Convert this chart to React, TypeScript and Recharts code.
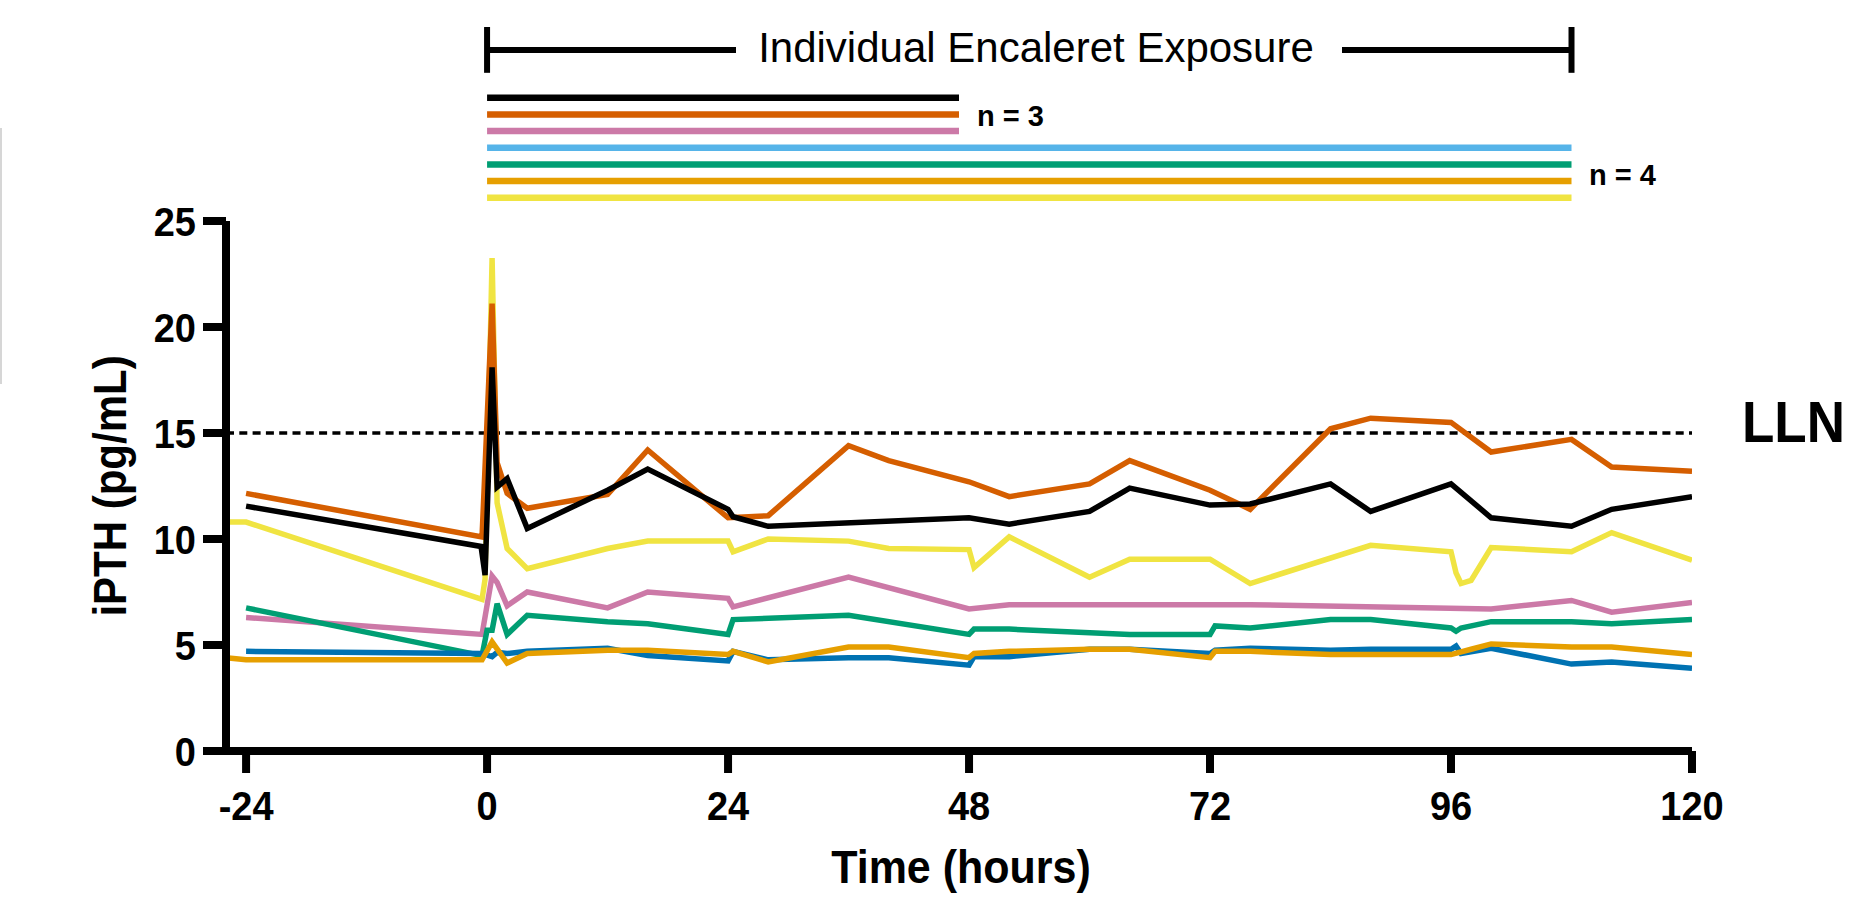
import React from 'react';
import { LineChart, Line, XAxis, YAxis, ReferenceLine } from 'recharts';

type Pt = [number, number]; // [hours, iPTH pg/mL]

const blackPts: Pt[] = [
  [-24, 11.55], [-0.6, 9.65], [-0.2, 8.3], [0.5, 18.1], [1, 12.45], [2, 12.85], [4, 10.5],
  [12, 12.3], [16, 13.3], [24, 11.4], [24.5, 11.05], [28, 10.6], [48, 11.0], [52, 10.7],
  [60, 11.3], [64, 12.4], [72, 11.6], [76, 11.65], [84, 12.6], [88, 11.3], [96, 12.6],
  [100, 11.0], [108, 10.6], [112, 11.4], [120, 12.0],
];
const vermillionPts: Pt[] = [
  [-24, 12.15], [-0.5, 10.1], [0.5, 21.1], [1, 13.6], [2, 12.15], [4, 11.45], [12, 12.1],
  [16, 14.2], [24, 11.0], [28, 11.1], [36, 14.4], [40, 13.7], [48, 12.7], [52, 12.0],
  [60, 12.6], [64, 13.7], [72, 12.3], [76, 11.4], [84, 15.2], [88, 15.7], [96, 15.5],
  [100, 14.1], [108, 14.7], [112, 13.4], [120, 13.2],
];
const yellowPts: Pt[] = [
  [-26, 10.8], [-24, 10.8], [-0.5, 7.15], [-0.2, 8.1], [0.5, 23.25], [1, 11.7], [2, 9.55],
  [4, 8.6], [12, 9.55], [16, 9.9], [24, 9.9], [24.5, 9.4], [28, 10.0], [36, 9.9], [40, 9.55],
  [48, 9.5], [48.5, 8.65], [52, 10.1], [60, 8.2], [64, 9.05], [72, 9.05], [76, 7.9],
  [88, 9.7], [96, 9.4], [96.5, 8.4], [97, 7.9], [98, 8.05], [100, 9.6], [108, 9.4],
  [112, 10.3], [120, 9.0],
];
const pinkPts: Pt[] = [
  [-24, 6.3], [-0.5, 5.5], [0.5, 8.25], [1, 7.95], [2, 6.85], [4, 7.5], [12, 6.75],
  [16, 7.5], [24, 7.2], [24.5, 6.8], [36, 8.2], [48, 6.7], [52, 6.9], [76, 6.9],
  [100, 6.7], [108, 7.1], [112, 6.55], [120, 7.0],
];
const greenPts: Pt[] = [
  [-24, 6.75], [-0.5, 4.5], [0, 5.7], [0.5, 5.7], [1, 6.95], [2, 5.5], [4, 6.4], [12, 6.1],
  [16, 6.0], [24, 5.5], [24.5, 6.2], [36, 6.4], [48, 5.5], [48.5, 5.75], [52, 5.75],
  [64, 5.5], [72, 5.5], [72.5, 5.9], [76, 5.8], [84, 6.2], [88, 6.2], [96, 5.8],
  [96.5, 5.65], [97, 5.8], [100, 6.1], [108, 6.1], [112, 6.0], [120, 6.2],
];
const bluePts: Pt[] = [
  [-24, 4.7], [-0.5, 4.6], [0.5, 4.45], [1, 4.65], [2, 4.6], [4, 4.7], [12, 4.85],
  [16, 4.5], [24, 4.25], [24.5, 4.7], [28, 4.3], [36, 4.4], [40, 4.4], [48, 4.05],
  [48.5, 4.45], [52, 4.45], [60, 4.8], [64, 4.8], [72, 4.6], [72.5, 4.75], [76, 4.85],
  [84, 4.75], [88, 4.8], [96, 4.8], [96.5, 4.95], [97, 4.6], [100, 4.85], [108, 4.1],
  [112, 4.2], [120, 3.9],
];
const orangePts: Pt[] = [
  [-26, 4.4], [-24, 4.3], [-0.5, 4.3], [0.5, 5.15], [2, 4.15], [4, 4.6], [12, 4.75],
  [16, 4.75], [24, 4.55], [24.5, 4.7], [28, 4.2], [36, 4.9], [40, 4.9], [48, 4.4],
  [48.5, 4.6], [52, 4.7], [60, 4.8], [64, 4.8], [72, 4.4], [72.5, 4.7], [76, 4.7],
  [84, 4.55], [88, 4.55], [96, 4.55], [98, 4.8], [100, 5.05], [108, 4.9], [112, 4.9],
  [120, 4.55],
];

// draw order matters: later lines sit on top
const series = [
  { name: 'yellow', color: '#F0E442', pts: yellowPts },
  { name: 'pink', color: '#CC79A7', pts: pinkPts },
  { name: 'green', color: '#009E73', pts: greenPts },
  { name: 'blue', color: '#0072B2', pts: bluePts },
  { name: 'orange', color: '#E69F00', pts: orangePts },
  { name: 'vermillion', color: '#D55E00', pts: vermillionPts },
  { name: 'black', color: '#000000', pts: blackPts },
];

const xTicks = [-24, 0, 24, 48, 72, 96, 120];
const yTicks = [0, 5, 10, 15, 20, 25];
const LLN = 15;

// individual exposure bars at the top (hours on drug)
const exposureColors = ['#000000', '#D55E00', '#CC79A7', '#56B4E9', '#009E73', '#E69F00', '#F0E442'];
const exposureEnd = [47, 47, 47, 108, 108, 108, 108];
const bracketEnd = 108;

// vertical placement of the annotations above the axis (in y units)
const BAR_TOP = 30.81;
const BAR_STEP = 0.785;
const BRACKET_Y = 33.07;
const BRACKET_HALF = 1.08;

const FONT = '"Liberation Sans", Arial, Helvetica, sans-serif';
const STRETCH = 1.08; // the bold labels in the figure are a little taller than Arial

const XTick = (props: any) => {
  const { x, y, payload } = props;
  return (
    <text
      transform={`translate(${x}, ${y + 47}) scale(1, ${STRETCH})`}
      textAnchor="middle"
      fontSize={38}
      fontWeight="bold"
      fontFamily={FONT}
      fill="#000"
    >
      {payload.value}
    </text>
  );
};

const YTick = (props: any) => {
  const { x, y, payload } = props;
  return (
    <text
      transform={`translate(${x}, ${y + 14.5}) scale(1, ${STRETCH})`}
      textAnchor="end"
      fontSize={38}
      fontWeight="bold"
      fontFamily={FONT}
      fill="#000"
    >
      {payload.value}
    </text>
  );
};

export default function App() {
  return (
    <div style={{ position: 'absolute', left: 0, top: 0, width: 1863, height: 904, background: '#fff' }}>
      <LineChart width={1863} height={904} margin={{ top: 221, right: 171, bottom: 0, left: 0 }}>
        <XAxis
          type="number"
          dataKey="t"
          domain={[-26, 120]}
          ticks={xTicks}
          allowDataOverflow
          height={153}
          tickSize={22}
          tickMargin={0}
          axisLine={{ stroke: '#000', strokeWidth: 8 }}
          tickLine={{ stroke: '#000', strokeWidth: 8 }}
          tick={<XTick />}
        />
        <YAxis
          type="number"
          domain={[0, 25]}
          ticks={yTicks}
          allowDataOverflow
          width={226}
          tickSize={23}
          tickMargin={7}
          axisLine={{ stroke: '#000', strokeWidth: 8 }}
          tickLine={{ stroke: '#000', strokeWidth: 8 }}
          tick={<YTick />}
        />
        <ReferenceLine y={LLN} stroke="#000" strokeWidth={3.5} strokeDasharray="8 5.3" />
        {series.map((s) => (
          <Line
            key={s.name}
            data={s.pts.map(([t, v]) => ({ t, v }))}
            dataKey="v"
            type="linear"
            stroke={s.color}
            strokeWidth={5.5}
            dot={false}
            activeDot={false}
            isAnimationActive={false}
          />
        ))}
        {exposureEnd.map((end, i) => (
          <ReferenceLine
            key={'bar' + i}
            segment={[{ x: 0, y: BAR_TOP - i * BAR_STEP }, { x: end, y: BAR_TOP - i * BAR_STEP }]}
            stroke={exposureColors[i]}
            strokeWidth={6.5}
            ifOverflow="visible"
          />
        ))}
        <ReferenceLine
          segment={[{ x: 0, y: BRACKET_Y }, { x: bracketEnd, y: BRACKET_Y }]}
          stroke="#000"
          strokeWidth={6}
          ifOverflow="visible"
        />
        <ReferenceLine
          segment={[{ x: 0, y: BRACKET_Y - BRACKET_HALF }, { x: 0, y: BRACKET_Y + BRACKET_HALF }]}
          stroke="#000"
          strokeWidth={6}
          ifOverflow="visible"
        />
        <ReferenceLine
          segment={[{ x: bracketEnd, y: BRACKET_Y - BRACKET_HALF }, { x: bracketEnd, y: BRACKET_Y + BRACKET_HALF }]}
          stroke="#000"
          strokeWidth={6}
          ifOverflow="visible"
        />
      </LineChart>
      <svg
        width={1863}
        height={904}
        style={{ position: 'absolute', left: 0, top: 0, pointerEvents: 'none' }}
        fontFamily={FONT}
      >
        <line x1={1} y1={128} x2={1} y2={384} stroke="#c8c8c8" strokeWidth={1.5} />
        <rect x={736} y={40} width={606} height={22} fill="#fff" />
        <text x={1036} y={62} textAnchor="middle" fontSize={42} fill="#000">
          Individual Encaleret Exposure
        </text>
        <text x={977} y={126} fontSize={29} fontWeight="bold" fill="#000">n = 3</text>
        <text x={1589} y={185} fontSize={29} fontWeight="bold" fill="#000">n = 4</text>
        <text transform={`translate(1742, 442) scale(1, ${STRETCH})`} fontSize={53} fontWeight="bold" fill="#000">
          LLN
        </text>
        <text
          transform={`translate(126, 486) rotate(-90) scale(1, ${STRETCH})`}
          textAnchor="middle"
          fontSize={42}
          fontWeight="bold"
          fill="#000"
        >
          iPTH (pg/mL)
        </text>
        <text
          transform={`translate(961, 883) scale(1, ${STRETCH})`}
          textAnchor="middle"
          fontSize={43}
          fontWeight="bold"
          fill="#000"
        >
          Time (hours)
        </text>
      </svg>
    </div>
  );
}
